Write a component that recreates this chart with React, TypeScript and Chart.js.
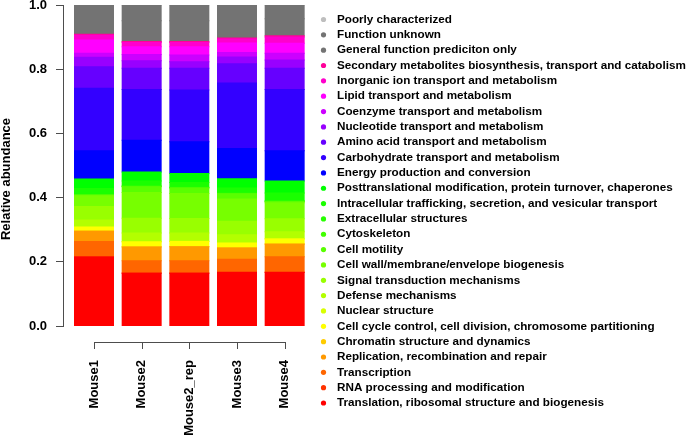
import React, { useEffect, useRef } from 'react';
import { Chart, registerables } from 'chart.js';

Chart.register(...registerables);

// Samples (x categories)
const samples = ['Mouse1', 'Mouse2', 'Mouse2_rep', 'Mouse3', 'Mouse4'];
const yTickValues = [0, 0.2, 0.4, 0.6, 0.8, 1.0];

// Relative abundance of each COG category, per sample
const translation = [0.215, 0.164, 0.164, 0.167, 0.167];
const rnaProcessing = [0.001, 0.001, 0.001, 0.001, 0.001];
const transcription = [0.047, 0.038, 0.038, 0.040, 0.048];
const replication = [0.032, 0.043, 0.044, 0.035, 0.039];
const chromatin = [0.001, 0.001, 0.001, 0.001, 0.001];
const cellCycle = [0.012, 0.015, 0.015, 0.014, 0.015];
const nuclear = [0.001, 0.001, 0.001, 0.001, 0.001];
const defense = [0.021, 0.027, 0.026, 0.025, 0.022];
const signalTransduction = [0.042, 0.046, 0.045, 0.042, 0.040];
const cellWall = [0.034, 0.080, 0.078, 0.070, 0.050];
const motility = [0.002, 0.018, 0.017, 0.016, 0.004];
const cytoskeleton = [0.001, 0.001, 0.001, 0.001, 0.001];
const extracellular = [0.001, 0.001, 0.001, 0.001, 0.001];
const intracellular = [0.018, 0.016, 0.015, 0.016, 0.024];
const posttranslational = [0.030, 0.028, 0.028, 0.029, 0.038];
const energy = [0.088, 0.099, 0.099, 0.094, 0.094];
const carbohydrate = [0.195, 0.158, 0.161, 0.204, 0.191];
const aminoAcid = [0.067, 0.066, 0.068, 0.060, 0.066];
const nucleotide = [0.029, 0.023, 0.020, 0.021, 0.026];
const coenzyme = [0.013, 0.020, 0.021, 0.014, 0.021];
const lipid = [0.041, 0.024, 0.026, 0.030, 0.031];
const inorganicIon = [0.015, 0.013, 0.013, 0.012, 0.019];
const secondaryMetabolites = [0.003, 0.003, 0.003, 0.003, 0.004];
const generalFunction = [0.052, 0.065, 0.065, 0.058, 0.053];
const functionUnknown = [0.039, 0.049, 0.049, 0.045, 0.043];
const poorlyCharacterized = [0, 0, 0, 0, 0];

// Stack order: bottom first
const categoryNames = [
  'Translation, ribosomal structure and biogenesis',
  'RNA processing and modification',
  'Transcription',
  'Replication, recombination and repair',
  'Chromatin structure and dynamics',
  'Cell cycle control, cell division, chromosome partitioning',
  'Nuclear structure',
  'Defense mechanisms',
  'Signal transduction mechanisms',
  'Cell wall/membrane/envelope biogenesis',
  'Cell motility',
  'Cytoskeleton',
  'Extracellular structures',
  'Intracellular trafficking, secretion, and vesicular transport',
  'Posttranslational modification, protein turnover, chaperones',
  'Energy production and conversion',
  'Carbohydrate transport and metabolism',
  'Amino acid transport and metabolism',
  'Nucleotide transport and metabolism',
  'Coenzyme transport and metabolism',
  'Lipid transport and metabolism',
  'Inorganic ion transport and metabolism',
  'Secondary metabolites biosynthesis, transport and catabolism',
  'General function prediciton only',
  'Function unknown',
  'Poorly characterized',
];
const categoryValues = [
  translation, rnaProcessing, transcription, replication, chromatin, cellCycle,
  nuclear, defense, signalTransduction, cellWall, motility, cytoskeleton,
  extracellular, intracellular, posttranslational, energy, carbohydrate,
  aminoAcid, nucleotide, coenzyme, lipid, inorganicIon, secondaryMetabolites,
  generalFunction, functionUnknown, poorlyCharacterized,
];
const categoryColors = [
  '#FF0000', '#FF3300', '#FF6600', '#FF9900', '#FFCC00', '#FFFF00',
  '#D9FF00', '#B3FF00', '#99FF00', '#77FF00', '#59FF00', '#40FF00',
  '#26FF00', '#1AFF00', '#00FF00', '#0000FF', '#3300FF', '#6600FF',
  '#9900FF', '#CC00FF', '#FF00FF', '#FF00CC', '#FF0099', '#737373',
  '#737373', '#BEBEBE',
];

const FONT = '"Liberation Sans", Arial, Helvetica, sans-serif';
const AXIS_COLOR = '#4d4d4d';

const legendPlugin = {
  id: 'cogLegend',
  afterDraw(chart: any) {
    const ctx = chart.ctx;
    const ds = chart.data.datasets.slice().reverse();
    ctx.save();
    ctx.font = `bold 11.7px ${FONT}`;
    ctx.textBaseline = 'middle';
    ctx.textAlign = 'left';
    ds.forEach((d: any, i: number) => {
      const y = 19.5 + i * 15.34;
      ctx.fillStyle = d.backgroundColor;
      ctx.beginPath();
      ctx.arc(323.5, y, 2.6, 0, Math.PI * 2);
      ctx.fill();
      ctx.fillStyle = '#000';
      ctx.fillText(d.label, 337, y);
    });
    ctx.restore();
  },
};

const axisDecorPlugin = {
  id: 'axisDecor',
  afterDraw(chart: any) {
    const ctx = chart.ctx;
    const x = chart.scales.x;
    const area = chart.chartArea;
    const yLine = area.bottom + 16;
    const x0 = x.getPixelForValue(1);
    const x1 = x.getPixelForValue(samples.length);
    ctx.save();
    ctx.strokeStyle = AXIS_COLOR;
    ctx.lineWidth = 1;
    ctx.beginPath();
    ctx.moveTo(Math.round(x0) + 0.5, yLine + 0.5);
    ctx.lineTo(Math.round(x1) + 0.5, yLine + 0.5);
    samples.forEach((_, i) => {
      const px = Math.round(x.getPixelForValue(i + 1)) + 0.5;
      ctx.moveTo(px, yLine);
      ctx.lineTo(px, yLine + 7);
    });
    ctx.stroke();
    // y-axis title
    ctx.fillStyle = '#000';
    ctx.font = `bold 13px ${FONT}`;
    ctx.textAlign = 'center';
    ctx.textBaseline = 'middle';
    ctx.translate(6.5, 179);
    ctx.rotate(-Math.PI / 2);
    ctx.fillText('Relative abundance', 0, 0);
    ctx.restore();
  },
};

export default function App() {
  const canvasRef = useRef<HTMLCanvasElement | null>(null);

  useEffect(() => {
    const canvas = canvasRef.current;
    if (!canvas) return;
    const datasets = categoryNames.map((name, k) => ({
      label: name,
      data: categoryValues[k].map((v, i) => ({ x: i + 1, y: v })),
      backgroundColor: categoryColors[k],
      borderWidth: 0,
      inflateAmount: 0.5,
      barPercentage: 0.818,
      categoryPercentage: 1,
    }));
    const chart = new Chart(canvas, {
      type: 'bar',
      data: { datasets },
      plugins: [legendPlugin, axisDecorPlugin],
      options: {
        responsive: false,
        animation: false,
        devicePixelRatio: 1,
        layout: { padding: { left: 29, top: 5, right: 378, bottom: 0 } },
        plugins: {
          legend: { display: false },
          tooltip: { enabled: false },
        },
        scales: {
          x: {
            type: 'linear',
            stacked: true,
            min: 0.3497,
            max: 5.5315,
            offset: false,
            grid: { display: false, drawTicks: false },
            border: { display: false },
            ticks: {
              autoSkip: false,
              includeBounds: false,
              minRotation: 90,
              maxRotation: 90,
              padding: 34,
              color: '#000',
              font: { family: FONT, size: 13, weight: 'bold' },
              callback: (v: any) => samples[Number(v) - 1] ?? '',
            },
            afterBuildTicks: (scale: any) => {
              scale.ticks = samples.map((_, i) => ({ value: i + 1 }));
            },
            afterFit: (scale: any) => {
              scale.height = 111;
              scale.paddingLeft = 0;
              scale.paddingRight = 0;
            },
          },
          y: {
            type: 'linear',
            stacked: true,
            min: 0,
            max: 1,
            grid: {
              display: true,
              drawOnChartArea: false,
              drawTicks: true,
              tickLength: 7,
              color: AXIS_COLOR,
            },
            border: { display: true, color: AXIS_COLOR, width: 1 },
            ticks: {
              padding: 9,
              color: '#000',
              font: { family: FONT, size: 13, weight: 'bold' },
              callback: (v: any) => Number(v).toFixed(1),
            },
            afterBuildTicks: (scale: any) => {
              scale.ticks = yTickValues.map((v) => ({ value: v }));
            },
            afterFit: (scale: any) => {
              scale.width = 34;
              scale.paddingTop = 0;
              scale.paddingBottom = 0;
            },
          },
        },
      },
    } as any);
    return () => chart.destroy();
  }, []);

  return (
    <div style={{ position: 'fixed', left: 0, top: 0, width: 688, height: 437, background: '#fff' }}>
      <canvas ref={canvasRef} width={688} height={437} style={{ display: 'block' }} />
    </div>
  );
}
